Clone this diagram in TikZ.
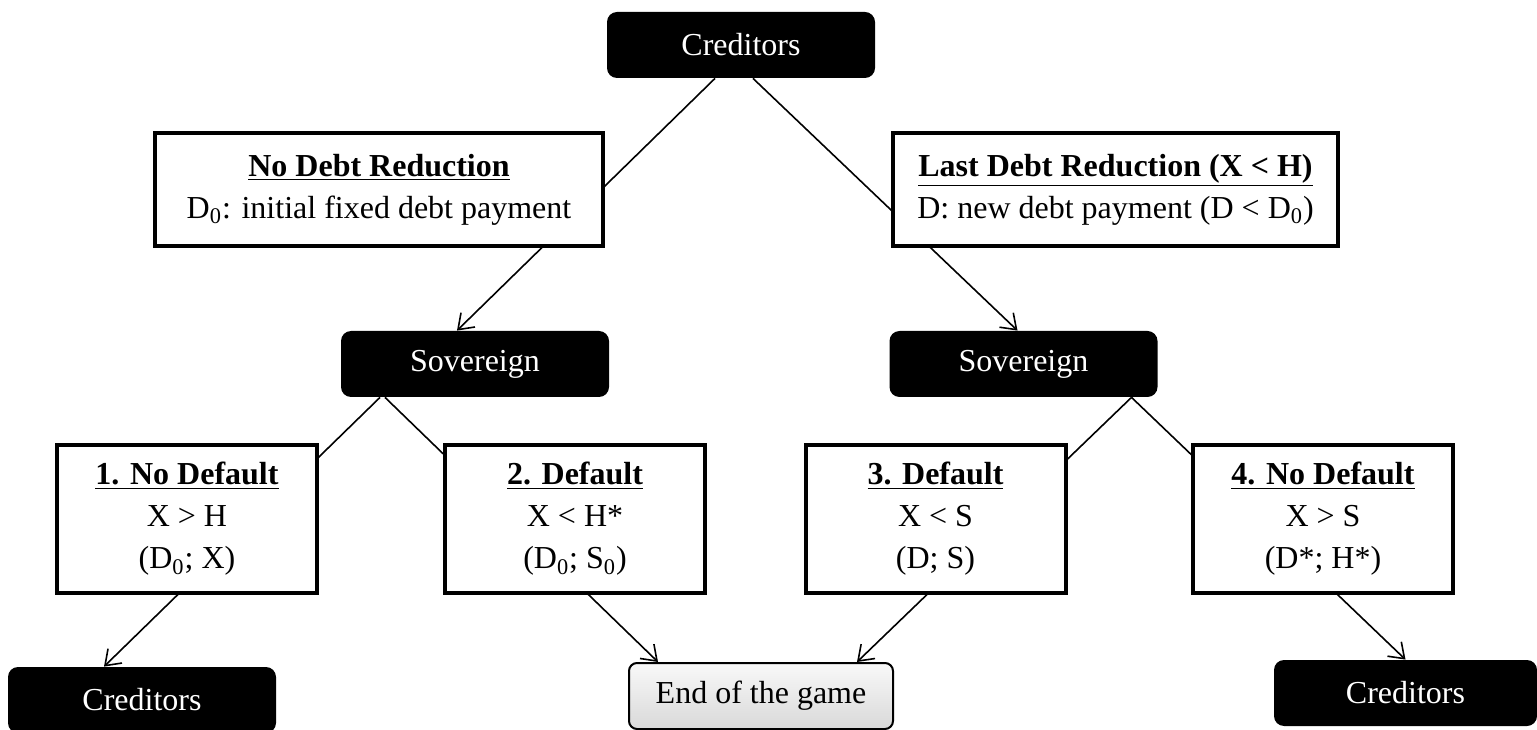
\documentclass[tikz,border=0pt]{standalone}
\usepackage{fontspec}
\setmainfont{Liberation Serif}
\usetikzlibrary{arrows.meta,positioning}

\begin{document}
\begin{tikzpicture}[x=1pt, y=1pt,
    player/.style={rectangle, fill=black, text=white, rounded corners=5pt, minimum width=134pt, minimum height=33pt, font=\fontsize{16}{21}\selectfont},
    choice/.style={rectangle, draw, line width=2pt, fill=white, align=center, font=\fontsize{16}{21}\selectfont},
    outcome/.style={choice, minimum width=130pt, minimum height=74pt},
    endbox/.style={rectangle, draw, line width=1pt, rounded corners=4pt, top color=gray!5, bottom color=gray!30, minimum width=132pt, minimum height=33pt, font=\fontsize{16}{21}\selectfont},
    link/.style={line width=0.8pt, -{Straight Barb[length=7pt,width=10pt,line width=0.8pt]}}]

  \useasboundingbox (0,0) rectangle (768.5,364.5);

  % players
  \node[player] (cred) at (370.5,342) {Creditors};
  \node[player] (sovL) at (237.5,182.5) {Sovereign};
  \node[player] (sovR) at (511.75,182.5) {Sovereign};
  \node[player] (credL) at (71,14.5) {Creditors};
  \node[player, minimum width=131.5pt] (credR) at (702.75,18) {Creditors};
  \node[endbox] (endg) at (380.5,16.5) {End of the game};

  % moves (the boxes are drawn over them)
  \draw[link] ([xshift=-13pt]cred.south) -- ([xshift=-9pt]sovL.north);
  \draw[link] ([xshift=6pt]cred.south) -- ([xshift=-3pt]sovR.north);
  \draw[link] ([xshift=-47.5pt]sovL.south) -- ([xshift=-19pt]credL.north);
  \draw[link] ([xshift=-45pt]sovL.south) -- ([xshift=-51.5pt]endg.north);
  \draw[link] ([xshift=54pt]sovR.south) -- ([xshift=48pt]endg.north);
  \draw[link] ([xshift=54pt]sovR.south) -- (credR.north);

  % offers
  \node[choice, minimum width=224pt, minimum height=56.5pt] (ndr) at (189.5,269.75)
    {\underline{\textbf{No Debt Reduction}}\\ D\textsubscript{0}: initial fixed debt payment};
  \node[choice, minimum width=222.5pt, minimum height=56.5pt] (ldr) at (557.75,269.75)
    {\underline{\textbf{Last Debt Reduction (X < H)}}\\ D: new debt payment (D < D\textsubscript{0})};

  % outcomes
  \node[outcome] (out1) at (93.5,105) {\underline{\textbf{1. No Default}}\\ X > H\\ (D\textsubscript{0}; X)};
  \node[outcome] (out2) at (287.5,105) {\underline{\textbf{2. Default}}\\ X < H*\\ (D\textsubscript{0}; S\textsubscript{0})};
  \node[outcome] (out3) at (467.75,105) {\underline{\textbf{3. Default}}\\ X < S\\ (D; S)};
  \node[outcome] (out4) at (661.5,105) {\underline{\textbf{4. No Default}}\\ X > S\\ (D*; H*)};
\end{tikzpicture}
\end{document}
